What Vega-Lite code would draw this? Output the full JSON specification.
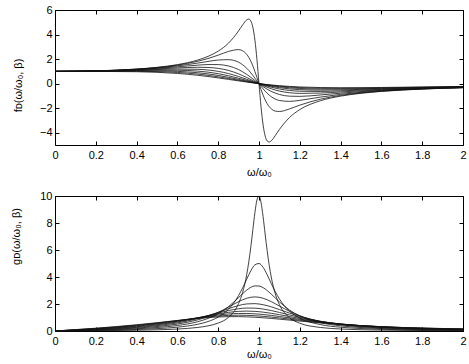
{
"$schema": "https://vega.github.io/schema/vega-lite/v6.json",
"padding": {"left": 9, "top": 4, "right": 5, "bottom": 2},
"config": {
  "font": "Liberation Sans",
  "view": {"stroke": null},
  "axis": {"domainColor": "#000", "tickColor": "#000", "labelColor": "#000", "titleColor": "#000", "labelFontSize": 11, "titleFontSize": 11, "titleFontWeight": "normal", "grid": false, "tickSize": -4, "domainWidth": 1, "tickWidth": 1, "labelFont": "Liberation Sans", "titleFont": "Liberation Sans", "labelFlush": false, "labelOverlap": false}
},
"datasets": {"d": [
{"b":0.1,"x":0,"f":1,"g":0},{"b":0.1,"x":0.2,"f":1.0412,"g":0.0217},{"b":0.1,"x":0.4,"f":1.1878,"g":0.0566},{"b":0.1,"x":0.5,"f":1.3274,"g":0.0885},{"b":0.1,"x":0.6,"f":1.5489,"g":0.1452},{"b":0.1,"x":0.7,"f":1.9245,"g":0.2642},{"b":0.1,"x":0.75,"f":2.2204,"g":0.3806},{"b":0.1,"x":0.8,"f":2.6471,"g":0.5882},{"b":0.1,"x":0.85,"f":3.2943,"g":1.0091},{"b":0.1,"x":0.9,"f":4.2986,"g":2.0362},{"b":0.1,"x":0.92,"f":4.7914,"g":2.8699},{"b":0.1,"x":0.94,"f":5.2,"g":4.1993},{"b":0.1,"x":0.95,"f":5.2614,"g":5.1265},{"b":0.1,"x":0.96,"f":5.1033,"g":6.2489},{"b":0.1,"x":0.97,"f":4.5808,"g":7.5183},{"b":0.1,"x":0.98,"f":3.5445,"g":8.7718},{"b":0.1,"x":0.99,"f":1.9516,"g":9.7087},{"b":0.1,"x":1,"f":0,"g":10},{"b":0.1,"x":1.01,"f":-1.8953,"g":9.5238},{"b":0.1,"x":1.02,"f":-3.3566,"g":8.4744},{"b":0.1,"x":1.03,"f":-4.2535,"g":7.1939},{"b":0.1,"x":1.04,"f":-4.6696,"g":5.9515},{"b":0.1,"x":1.05,"f":-4.7605,"g":4.8766},{"b":0.1,"x":1.06,"f":-4.6619,"g":3.9981},{"b":0.1,"x":1.08,"f":-4.2284,"g":2.7444},{"b":0.1,"x":1.1,"f":-3.7367,"g":1.9573},{"b":0.1,"x":1.15,"f":-2.7509,"g":0.9809},{"b":0.1,"x":1.2,"f":-2.1154,"g":0.5769},{"b":0.1,"x":1.3,"f":-1.3996,"g":0.2637},{"b":0.1,"x":1.4,"f":-1.02,"g":0.1487},{"b":0.1,"x":1.5,"f":-0.7886,"g":0.0946},{"b":0.1,"x":1.6,"f":-0.6343,"g":0.0651},{"b":0.1,"x":1.8,"f":-0.4436,"g":0.0356},{"b":0.1,"x":2,"f":-0.3319,"g":0.0221},
{"b":0.2,"x":0,"f":1,"g":0},{"b":0.2,"x":0.2,"f":1.0399,"g":0.0433},{"b":0.2,"x":0.4,"f":1.1798,"g":0.1124},{"b":0.2,"x":0.5,"f":1.31,"g":0.1747},{"b":0.2,"x":0.6,"f":1.5094,"g":0.283},{"b":0.2,"x":0.7,"f":1.8234,"g":0.5005},{"b":0.2,"x":0.75,"f":2.0453,"g":0.7012},{"b":0.2,"x":0.8,"f":2.3196,"g":1.0309},{"b":0.2,"x":0.85,"f":2.6202,"g":1.6051},{"b":0.2,"x":0.9,"f":2.7737,"g":2.6277},{"b":0.2,"x":0.92,"f":2.6737,"g":3.2029},{"b":0.2,"x":0.94,"f":2.3807,"g":3.8451},{"b":0.2,"x":0.96,"f":1.8228,"g":4.464},{"b":0.2,"x":0.98,"f":0.9904,"g":4.9019},{"b":0.2,"x":1,"f":0,"g":5},{"b":0.2,"x":1.02,"f":-0.9341,"g":4.717},{"b":0.2,"x":1.04,"f":-1.6345,"g":4.1665},{"b":0.2,"x":1.06,"f":-2.0524,"g":3.5204},{"b":0.2,"x":1.08,"f":-2.2382,"g":2.9054},{"b":0.2,"x":1.1,"f":-2.2703,"g":2.3784},{"b":0.2,"x":1.15,"f":-2.0553,"g":1.4658},{"b":0.2,"x":1.2,"f":-1.7516,"g":0.9554},{"b":0.2,"x":1.3,"f":-1.2691,"g":0.4782},{"b":0.2,"x":1.4,"f":-0.96,"g":0.28},{"b":0.2,"x":1.5,"f":-0.7564,"g":0.1815},{"b":0.2,"x":1.6,"f":-0.6151,"g":0.1262},{"b":0.2,"x":1.8,"f":-0.4352,"g":0.0699},{"b":0.2,"x":2,"f":-0.3275,"g":0.0437},
{"b":0.3,"x":0,"f":1,"g":0},{"b":0.3,"x":0.2,"f":1.0376,"g":0.0649},{"b":0.3,"x":0.4,"f":1.1667,"g":0.1667},{"b":0.3,"x":0.5,"f":1.2821,"g":0.2564},{"b":0.3,"x":0.6,"f":1.448,"g":0.4072},{"b":0.3,"x":0.7,"f":1.6765,"g":0.6903},{"b":0.3,"x":0.75,"f":1.8076,"g":0.9296},{"b":0.3,"x":0.8,"f":1.9231,"g":1.2821},{"b":0.3,"x":0.85,"f":1.9537,"g":1.7953},{"b":0.3,"x":0.9,"f":1.7431,"g":2.4771},{"b":0.3,"x":0.94,"f":1.2506,"g":3.0299},{"b":0.3,"x":0.98,"f":0.45,"g":3.3408},{"b":0.3,"x":1,"f":0,"g":3.3333},{"b":0.3,"x":1.02,"f":-0.4241,"g":3.212},{"b":0.3,"x":1.06,"f":-1.0618,"g":2.7319},{"b":0.3,"x":1.1,"f":-1.3725,"g":2.1569},{"b":0.3,"x":1.15,"f":-1.446,"g":1.5468},{"b":0.3,"x":1.2,"f":-1.3614,"g":1.1139},{"b":0.3,"x":1.3,"f":-1.0984,"g":0.6208},{"b":0.3,"x":1.4,"f":-0.8743,"g":0.3825},{"b":0.3,"x":1.5,"f":-0.7082,"g":0.255},{"b":0.3,"x":1.6,"f":-0.5856,"g":0.1802},{"b":0.3,"x":1.8,"f":-0.4219,"g":0.1017},{"b":0.3,"x":2,"f":-0.3205,"g":0.0641},
{"b":0.4,"x":0,"f":1,"g":0},{"b":0.4,"x":0.2,"f":1.0345,"g":0.0862},{"b":0.4,"x":0.4,"f":1.1488,"g":0.2188},{"b":0.4,"x":0.5,"f":1.2448,"g":0.332},{"b":0.4,"x":0.6,"f":1.3699,"g":0.5137},{"b":0.4,"x":0.7,"f":1.5066,"g":0.8272},{"b":0.4,"x":0.75,"f":1.5547,"g":1.0661},{"b":0.4,"x":0.8,"f":1.5517,"g":1.3793},{"b":0.4,"x":0.85,"f":1.4407,"g":1.7652},{"b":0.4,"x":0.9,"f":1.1467,"g":2.1726},{"b":0.4,"x":0.94,"f":0.7513,"g":2.427},{"b":0.4,"x":0.98,"f":0.2551,"g":2.5253},{"b":0.4,"x":1,"f":0,"g":2.5},{"b":0.4,"x":1.02,"f":-0.2403,"g":2.4272},{"b":0.4,"x":1.06,"f":-0.6337,"g":2.1738},{"b":0.4,"x":1.1,"f":-0.8835,"g":1.8511},{"b":0.4,"x":1.15,"f":-1.0218,"g":1.4575},{"b":0.4,"x":1.2,"f":-1.0377,"g":1.1321},{"b":0.4,"x":1.3,"f":-0.9243,"g":0.6966},{"b":0.4,"x":1.4,"f":-0.7772,"g":0.4534},{"b":0.4,"x":1.5,"f":-0.6502,"g":0.3121},{"b":0.4,"x":1.6,"f":-0.5487,"g":0.2251},{"b":0.4,"x":1.8,"f":-0.4046,"g":0.1301},{"b":0.4,"x":2,"f":-0.3112,"g":0.083},
{"b":0.5,"x":0,"f":1,"g":0},{"b":0.5,"x":0.2,"f":1.0305,"g":0.1073},{"b":0.5,"x":0.4,"f":1.1266,"g":0.2682},{"b":0.5,"x":0.5,"f":1.2,"g":0.4},{"b":0.5,"x":0.6,"f":1.281,"g":0.6005},{"b":0.5,"x":0.7,"f":1.333,"g":0.9148},{"b":0.5,"x":0.75,"f":1.3176,"g":1.1294},{"b":0.5,"x":0.8,"f":1.2431,"g":1.3812},{"b":0.5,"x":0.85,"f":1.0771,"g":1.6496},{"b":0.5,"x":0.9,"f":0.7963,"g":1.886},{"b":0.5,"x":0.94,"f":0.4965,"g":2.0047},{"b":0.5,"x":0.98,"f":0.1639,"g":2.0276},{"b":0.5,"x":1,"f":0,"g":2},{"b":0.5,"x":1.02,"f":-0.1544,"g":1.9486},{"b":0.5,"x":1.06,"f":-0.4173,"g":1.7895},{"b":0.5,"x":1.1,"f":-0.6059,"g":1.5869},{"b":0.5,"x":1.15,"f":-0.742,"g":1.323},{"b":0.5,"x":1.2,"f":-0.7948,"g":1.0838},{"b":0.5,"x":1.3,"f":-0.7679,"g":0.7233},{"b":0.5,"x":1.4,"f":-0.6801,"g":0.4959},{"b":0.5,"x":1.5,"f":-0.5882,"g":0.3529},{"b":0.5,"x":1.6,"f":-0.5076,"g":0.2603},{"b":0.5,"x":1.8,"f":-0.3844,"g":0.1544},{"b":0.5,"x":2,"f":-0.3,"g":0.1},
{"b":0.6,"x":0,"f":1,"g":0},{"b":0.6,"x":0.2,"f":1.0256,"g":0.1282},{"b":0.6,"x":0.4,"f":1.1006,"g":0.3145},{"b":0.6,"x":0.5,"f":1.1494,"g":0.4598},{"b":0.6,"x":0.6,"f":1.1869,"g":0.6677},{"b":0.6,"x":0.7,"f":1.1684,"g":0.9622},{"b":0.6,"x":0.75,"f":1.1107,"g":1.1424},{"b":0.6,"x":0.8,"f":1,"g":1.3333},{"b":0.6,"x":0.85,"f":0.8232,"g":1.5129},{"b":0.6,"x":0.9,"f":0.5798,"g":1.6478},{"b":0.6,"x":0.94,"f":0.351,"g":1.7006},{"b":0.6,"x":0.98,"f":0.114,"g":1.693},{"b":0.6,"x":1,"f":0,"g":1.6667},{"b":0.6,"x":1.02,"f":-0.1074,"g":1.6269},{"b":0.6,"x":1.06,"f":-0.2944,"g":1.5151},{"b":0.6,"x":1.1,"f":-0.4378,"g":1.3759},{"b":0.6,"x":1.15,"f":-0.5559,"g":1.1894},{"b":0.6,"x":1.2,"f":-0.618,"g":1.0112},{"b":0.6,"x":1.3,"f":-0.6362,"g":0.7192},{"b":0.6,"x":1.4,"f":-0.59,"g":0.5162},{"b":0.6,"x":1.5,"f":-0.5269,"g":0.3793},{"b":0.6,"x":1.6,"f":-0.4649,"g":0.2861},{"b":0.6,"x":1.8,"f":-0.3622,"g":0.1746},{"b":0.6,"x":2,"f":-0.2874,"g":0.1149},
{"b":0.7,"x":0,"f":1,"g":0},{"b":0.7,"x":0.2,"f":1.02,"g":0.1487},{"b":0.7,"x":0.4,"f":1.0714,"g":0.3571},{"b":0.7,"x":0.5,"f":1.0949,"g":0.5109},{"b":0.7,"x":0.6,"f":1.0922,"g":0.7167},{"b":0.7,"x":0.7,"f":1.0196,"g":0.9796},{"b":0.7,"x":0.75,"f":0.9368,"g":1.1241},{"b":0.7,"x":0.8,"f":0.8123,"g":1.2635},{"b":0.7,"x":0.85,"f":0.6438,"g":1.3804},{"b":0.7,"x":0.9,"f":0.4388,"g":1.455},{"b":0.7,"x":0.94,"f":0.2607,"g":1.4736},{"b":0.7,"x":0.98,"f":0.0839,"g":1.4529},{"b":0.7,"x":1,"f":0,"g":1.4286},{"b":0.7,"x":1.02,"f":-0.079,"g":1.3961},{"b":0.7,"x":1.06,"f":-0.2184,"g":1.3113},{"b":0.7,"x":1.1,"f":-0.3297,"g":1.2088},{"b":0.7,"x":1.15,"f":-0.4288,"g":1.0704},{"b":0.7,"x":1.2,"f":-0.4893,"g":0.9342},{"b":0.7,"x":1.3,"f":-0.5291,"g":0.6977},{"b":0.7,"x":1.4,"f":-0.5101,"g":0.5207},{"b":0.7,"x":1.5,"f":-0.469,"g":0.394},{"b":0.7,"x":1.6,"f":-0.423,"g":0.3037},{"b":0.7,"x":1.8,"f":-0.3391,"g":0.1908},{"b":0.7,"x":2,"f":-0.2737,"g":0.1277},
{"b":0.8,"x":0,"f":1,"g":0},{"b":0.8,"x":0.2,"f":1.0135,"g":0.1689},{"b":0.8,"x":0.4,"f":1.0396,"g":0.396},{"b":0.8,"x":0.5,"f":1.0381,"g":0.5536},{"b":0.8,"x":0.6,"f":1,"g":0.75},{"b":0.8,"x":0.7,"f":0.889,"g":0.9761},{"b":0.8,"x":0.75,"f":0.7934,"g":1.0881},{"b":0.8,"x":0.8,"f":0.6677,"g":1.1869},{"b":0.8,"x":0.85,"f":0.5145,"g":1.2606},{"b":0.8,"x":0.9,"f":0.3427,"g":1.2985},{"b":0.8,"x":0.94,"f":0.201,"g":1.2987},{"b":0.8,"x":0.98,"f":0.0643,"g":1.2723},{"b":0.8,"x":1,"f":0,"g":1.25},{"b":0.8,"x":1.02,"f":-0.0605,"g":1.2225},{"b":0.8,"x":1.06,"f":-0.1683,"g":1.1547},{"b":0.8,"x":1.1,"f":-0.2566,"g":1.0751},{"b":0.8,"x":1.15,"f":-0.3393,"g":0.968},{"b":0.8,"x":1.2,"f":-0.3945,"g":0.8608},{"b":0.8,"x":1.3,"f":-0.443,"g":0.6677},{"b":0.8,"x":1.4,"f":-0.4412,"g":0.5147},{"b":0.8,"x":1.5,"f":-0.4163,"g":0.3997},{"b":0.8,"x":1.6,"f":-0.3831,"g":0.3143},{"b":0.8,"x":1.8,"f":-0.3159,"g":0.2031},{"b":0.8,"x":2,"f":-0.2595,"g":0.1384},
{"b":0.9,"x":0,"f":1,"g":0},{"b":0.9,"x":0.2,"f":1.0063,"g":0.1887},{"b":0.9,"x":0.4,"f":1.0057,"g":0.431},{"b":0.9,"x":0.5,"f":0.9804,"g":0.5882},{"b":0.9,"x":0.6,"f":0.9127,"g":0.7701},{"b":0.9,"x":0.7,"f":0.7763,"g":0.9589},{"b":0.9,"x":0.75,"f":0.6762,"g":1.0432},{"b":0.9,"x":0.8,"f":0.5556,"g":1.1111},{"b":0.9,"x":0.85,"f":0.419,"g":1.1552},{"b":0.9,"x":0.9,"f":0.2745,"g":1.1702},{"b":0.9,"x":0.94,"f":0.1596,"g":1.1601},{"b":0.9,"x":0.98,"f":0.0508,"g":1.1315},{"b":0.9,"x":1,"f":0,"g":1.1111},{"b":0.9,"x":1.02,"f":-0.0478,"g":1.0872},{"b":0.9,"x":1.06,"f":-0.1336,"g":1.0309},{"b":0.9,"x":1.1,"f":-0.205,"g":0.9666},{"b":0.9,"x":1.15,"f":-0.2744,"g":0.8807},{"b":0.9,"x":1.2,"f":-0.3235,"g":0.7941},{"b":0.9,"x":1.3,"f":-0.374,"g":0.6341},{"b":0.9,"x":1.4,"f":-0.3826,"g":0.5022},{"b":0.9,"x":1.5,"f":-0.3693,"g":0.3988},{"b":0.9,"x":1.6,"f":-0.3461,"g":0.3195},{"b":0.9,"x":1.8,"f":-0.2931,"g":0.212},{"b":0.9,"x":2,"f":-0.2451,"g":0.1471},
{"b":1.0,"x":0,"f":1,"g":0},{"b":1.0,"x":0.2,"f":0.9983,"g":0.208},{"b":1.0,"x":0.4,"f":0.9704,"g":0.4621},{"b":1.0,"x":0.5,"f":0.9231,"g":0.6154},{"b":1.0,"x":0.6,"f":0.8316,"g":0.7796},{"b":1.0,"x":0.7,"f":0.6799,"g":0.9332},{"b":1.0,"x":0.75,"f":0.5803,"g":0.9948},{"b":1.0,"x":0.8,"f":0.4678,"g":1.0395},{"b":1.0,"x":0.85,"f":0.3471,"g":1.0632},{"b":1.0,"x":0.9,"f":0.2246,"g":1.0637},{"b":1.0,"x":0.94,"f":0.1297,"g":1.0478},{"b":1.0,"x":0.98,"f":0.0412,"g":1.0187},{"b":1.0,"x":1,"f":0,"g":1},{"b":1.0,"x":1.02,"f":-0.0388,"g":0.9789},{"b":1.0,"x":1.06,"f":-0.1085,"g":0.9307},{"b":1.0,"x":1.1,"f":-0.1675,"g":0.8771},{"b":1.0,"x":1.15,"f":-0.2261,"g":0.8062},{"b":1.0,"x":1.2,"f":-0.2693,"g":0.7346},{"b":1.0,"x":1.3,"f":-0.3185,"g":0.6002},{"b":1.0,"x":1.4,"f":-0.3331,"g":0.4858},{"b":1.0,"x":1.5,"f":-0.3279,"g":0.3934},{"b":1.0,"x":1.6,"f":-0.3124,"g":0.3204},{"b":1.0,"x":1.8,"f":-0.2713,"g":0.218},{"b":1.0,"x":2,"f":-0.2308,"g":0.1538}
]},
"data": {"name": "d"},
"spacing": 13,
"vconcat": [
  {
    "width": 408, "height": 135,
    "layer": [
      {"mark": {"type": "line", "interpolate": "monotone", "color": "#111", "strokeWidth": 0.8},
       "encoding": {
         "x": {"field": "x", "type": "quantitative", "scale": {"domain": [0, 2], "nice": false}, "axis": {"orient": "bottom", "values": [0,0.2,0.4,0.6,0.8,1,1.2,1.4,1.6,1.8,2], "format": ".1~f", "title": "ω/ω₀", "labelPadding": 8, "titlePadding": 6}},
         "y": {"field": "f", "type": "quantitative", "scale": {"domain": [-5, 6], "nice": false}, "axis": {"orient": "left", "values": [-4,-2,0,2,4,6], "format": ".1~f", "title": "fᴅ(ω/ω₀, β)", "labelPadding": 7, "titleX": -37, "titleY": 75, "titleBaseline": "middle"}},
         "detail": {"field": "b", "type": "nominal"}
       }},
      {"mark": {"type": "line", "opacity": 0},
       "encoding": {
         "x": {"field": "x", "type": "quantitative", "axis": {"orient": "top", "values": [0,0.2,0.4,0.6,0.8,1,1.2,1.4,1.6,1.8,2], "labels": false, "title": null}},
         "y": {"field": "f", "type": "quantitative", "axis": {"orient": "right", "values": [-4,-2,0,2,4,6], "labels": false, "title": null}},
         "detail": {"field": "b", "type": "nominal"}
       }}
    ],
    "resolve": {"axis": {"x": "independent", "y": "independent"}}
  },
  {
    "width": 408, "height": 135,
    "layer": [
      {"mark": {"type": "line", "interpolate": "monotone", "color": "#111", "strokeWidth": 0.8},
       "encoding": {
         "x": {"field": "x", "type": "quantitative", "scale": {"domain": [0, 2], "nice": false}, "axis": {"orient": "bottom", "values": [0,0.2,0.4,0.6,0.8,1,1.2,1.4,1.6,1.8,2], "format": ".1~f", "title": "ω/ω₀", "labelPadding": 8, "titlePadding": 2}},
         "y": {"field": "g", "type": "quantitative", "scale": {"domain": [0, 10], "nice": false}, "axis": {"orient": "left", "values": [0,2,4,6,8,10], "format": ".1~f", "title": "gᴅ(ω/ω₀, β)", "labelPadding": 7, "titleX": -39, "titleY": 40, "titleBaseline": "middle"}},
         "detail": {"field": "b", "type": "nominal"}
       }},
      {"mark": {"type": "line", "opacity": 0},
       "encoding": {
         "x": {"field": "x", "type": "quantitative", "axis": {"orient": "top", "values": [0,0.2,0.4,0.6,0.8,1,1.2,1.4,1.6,1.8,2], "labels": false, "title": null}},
         "y": {"field": "g", "type": "quantitative", "axis": {"orient": "right", "values": [0,2,4,6,8,10], "labels": false, "title": null}},
         "detail": {"field": "b", "type": "nominal"}
       }}
    ],
    "resolve": {"axis": {"x": "independent", "y": "independent"}}
  }
]
}
